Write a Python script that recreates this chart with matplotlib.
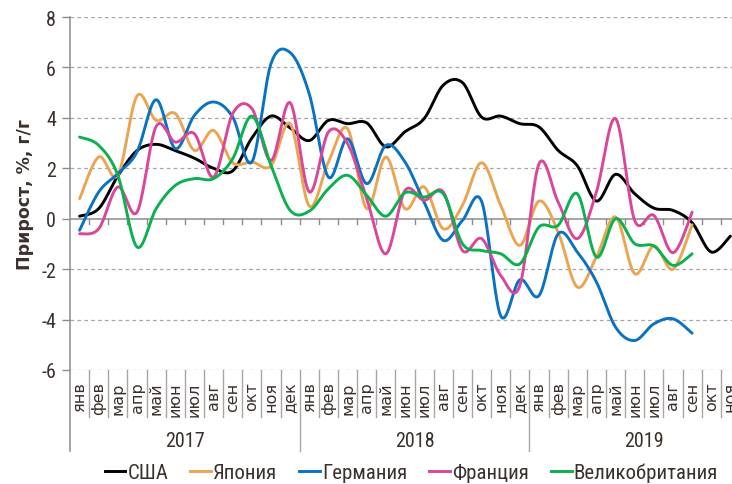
import numpy as np
import matplotlib
matplotlib.use("Agg")
import matplotlib.pyplot as plt
import matplotlib.transforms as mtransforms
from matplotlib import font_manager
from matplotlib.lines import Line2D

names = {f.name for f in font_manager.fontManager.ttflist}
narrow = next((n for n in ['Liberation Sans Narrow', 'Roboto Condensed', 'Open Sans Condensed',
                           'Noto Sans Condensed'] if n in names), None)
plt.rcParams['font.family'] = ['DejaVu Sans']
nfam = [narrow, 'DejaVu Sans'] if narrow else ['DejaVu Sans']
nstretch = 'normal' if narrow else 'condensed'
txt_c = '#3A302C'

# months Jan 2017 .. Nov 2019
months = ['янв', 'фев', 'мар', 'апр', 'май', 'июн', 'июл', 'авг', 'сен', 'окт', 'ноя', 'дек']
years = ['2017', '2018', '2019']
month_labels = (months * 3)[:35]

usa = [0.1, 0.4, 1.7, 2.7, 2.95, 2.7, 2.4, 2.0, 1.9, 3.2, 4.07, 3.6,
       3.1, 3.9, 3.77, 3.8, 2.85, 3.45, 3.97, 5.3, 5.4, 4.03, 4.07, 3.77,
       3.64, 2.71, 2.1, 0.7, 1.76, 0.99, 0.42, 0.33, -0.16, -1.32, -0.69]
japan = [0.79, 2.45, 1.72, 4.87, 3.9, 4.17, 2.71, 3.5, 2.22, 2.25, 2.1, 3.77,
         0.5, 2.25, 3.57, 0.4, 2.45, 0.4, 1.26, -0.4, 0.53, 2.22, 0.53, -1.06,
         0.7, -0.53, -2.71, -1.52, 0.07, -2.18, -1.08, -2.0, -0.24]
germany = [-0.46, 1.06, 1.79, 2.65, 4.72, 2.78, 4.1, 4.63, 4.03, 2.25, 6.15, 6.59,
           4.95, 1.65, 3.17, 1.39, 2.91, 2.25, 0.66, -0.86, -0.07, 0.69, -3.85, -2.42,
           -3.05, -0.6, -1.32, -2.51, -4.3, -4.83, -4.17, -3.97, -4.54]
france = [-0.6, -0.4, 1.26, 0.26, 3.66, 3.04, 3.37, 1.65, 4.17, 4.37, 2.31, 4.6,
          1.06, 3.44, 2.98, 0.79, -1.39, 1.12, 0.73, 1.06, -1.26, -0.79, -2.25, -2.65,
          2.18, 0.66, -0.79, 1.06, 3.97, -0.07, 0.13, -1.35, 0.26]
uk = [3.24, 2.91, 1.72, -1.12, 0.4, 1.32, 1.59, 1.59, 2.38, 4.07, 2.12, 0.33,
      0.3, 1.19, 1.72, 0.93, 0.1, 1.03, 0.86, 0.99, -0.99, -1.26, -1.39, -1.79,
      -0.33, -0.26, 0.99, -1.52, 0.0, -0.99, -1.08, -1.85, -1.39]

series = [('США', usa, '#000000'),
          ('Япония', japan, '#EBA552'),
          ('Германия', germany, '#0A72C2'),
          ('Франция', france, '#D9469A'),
          ('Великобритания', uk, '#0BB04F')]


def smooth(vals, n=20):
    # Catmull-Rom spline, like the smoothed lines in Excel
    y = np.asarray(vals, dtype=float)
    x = np.arange(len(y)) + 0.5
    p = np.concatenate([[y[0]], y, [y[-1]]])
    px = np.concatenate([[x[0]], x, [x[-1]]])
    xs, ys = [], []
    t = np.linspace(0, 1, n, endpoint=False)
    for i in range(1, len(y)):
        for arr, out in ((px, xs), (p, ys)):
            p0, p1, p2, p3 = arr[i - 1], arr[i], arr[i + 1], arr[i + 2]
            out.extend(0.5 * ((2 * p1) + (-p0 + p2) * t
                              + (2 * p0 - 5 * p1 + 4 * p2 - p3) * t ** 2
                              + (-p0 + 3 * p1 - 3 * p2 + p3) * t ** 3))
    xs.append(x[-1])
    ys.append(y[-1])
    return np.array(xs), np.array(ys)


fig = plt.figure(figsize=(7.32, 4.85), dpi=100)
ax = fig.add_axes([70 / 732, 114 / 485, 670 / 732, 353 / 485])
ax.set_xlim(0, 35)
ax.set_ylim(-6, 8)

grid_c = '#A6A6A6'
for v in range(-6, 9, 2):
    if v != 0:
        ax.axhline(v, color=grid_c, lw=0.9, ls=(0, (3, 2.5)), zorder=1)
ax.axhline(0, color='#8C8C8C', lw=1.1, zorder=1)

for name, vals, col in series:
    xs, ys = smooth(vals)
    ax.plot(xs, ys, color=col, lw=2.1, label=name, zorder=3, solid_capstyle='round')

for s in ax.spines.values():
    s.set_visible(False)

ax.set_yticks(range(-6, 9, 2))
ax.set_yticklabels([str(v) for v in range(-6, 9, 2)], fontsize=14.5,
                   color=txt_c, family=nfam, fontstretch=nstretch)
ax.tick_params(axis='y', length=6, color='#8C8C8C', width=1, pad=4)
ax.set_xticks([])
ax.set_ylabel('Прирост, %, г/г', fontsize=12.5, fontweight='bold', color=txt_c, labelpad=5)

trans = mtransforms.blended_transform_factory(ax.transData, ax.transAxes)
zero_y = 6 / 14
month_bot = -0.133
year_bot = -0.23
ax.plot([0, 0], [1, year_bot], color='#8C8C8C', lw=1.1, transform=trans, clip_on=False, zorder=2)
for k in range(1, 36):
    # small ticks on the zero line
    ax.plot([k, k], [zero_y, zero_y - 0.016], color='#8C8C8C', lw=1, transform=trans, clip_on=False)
    bottom = year_bot if k % 12 == 0 else month_bot
    ax.plot([k, k], [0, bottom], color='#A6A6A6', lw=1, transform=trans, clip_on=False)

for i, m in enumerate(month_labels):
    ax.text(i + 0.5, -0.032, m, rotation=90, ha='center', va='top', fontsize=11.5,
            color=txt_c, transform=trans, clip_on=False)
for j, yr in enumerate(years):
    ax.text(j * 12 + 6, -0.2, yr, ha='center', va='center', fontsize=14.5,
            color=txt_c, transform=trans, family=nfam, fontstretch=nstretch)

handles = [Line2D([], [], color=c, lw=2.1) for _, _, c in series]
leg = fig.legend(handles, [n for n, _, _ in series], loc='center', bbox_to_anchor=(0.562, 0.024),
                 ncol=5, frameon=False, handlelength=1.0, handletextpad=0.1,
                 columnspacing=1.05, prop={'family': nfam, 'size': 15, 'stretch': nstretch})
for t in leg.get_texts():
    t.set_color(txt_c)

fig.savefig('out.png', dpi=100)
